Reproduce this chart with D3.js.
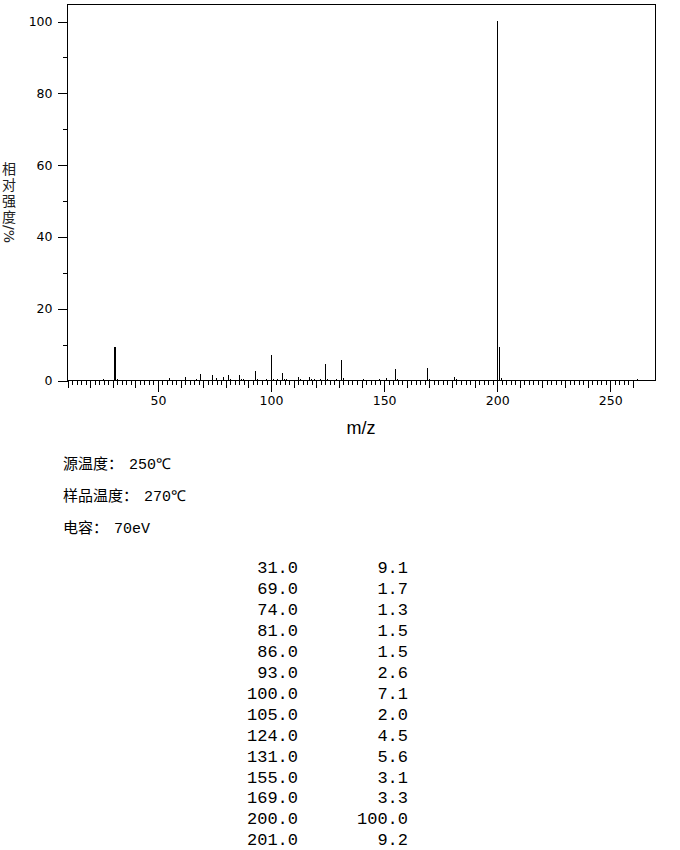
<!DOCTYPE html>
<html>
<head>
<meta charset="utf-8">
<script src="https://cdn.jsdelivr.net/npm/d3@7"></script>
<style>
  body { margin: 0; background: #fff; }
  svg { display: block; }
  .axis path, .axis line { stroke: #000; shape-rendering: crispEdges; }
  .axis text { font-family: "DejaVu Sans", sans-serif; font-size: 12.5px; fill: #000; }
</style>
</head>
<body>
<div id="chart"></div>
<script>
// peaks (m/z, relative intensity %)
var peakMz  = [26, 31, 32, 55, 62, 67, 69, 74, 76, 79, 81, 82, 86, 87, 88, 93, 94, 98, 100, 101, 103, 105, 106, 107,
               112, 113, 117, 118, 119, 122, 124, 125, 129, 131, 132, 141, 148, 151, 155, 156, 169, 170, 181, 182,
               200, 201, 202, 262];
var peakInt = [0.3, 9.1, 0.3, 0.6, 0.9, 0.3, 1.7, 1.3, 0.5, 0.9, 1.5, 0.3, 1.5, 0.3, 0.3, 2.6, 0.3, 0.4, 7.1, 0.4, 0.3, 2.0, 0.4, 0.3,
               0.9, 0.3, 0.9, 0.3, 0.4, 0.3, 4.5, 0.4, 0.4, 5.6, 0.5, 0.3, 0.4, 0.5, 3.1, 0.4, 3.3, 0.3, 0.8, 0.3,
               100, 9.2, 0.6, 0.3];

var xLabels = [50, 100, 150, 200, 250];
var yLabels = [0, 20, 40, 60, 80, 100];

var infoNames  = ["源温度", "样品温度", "电容"];
var infoValues = ["250℃", "270℃", "70eV"];

var xTitle = "m/z";
var yTitleChars = ["相", "对", "强", "度"];
var yTitleUnit = "/%";

var peaks = peakMz.map(function(m, i) { return {mz: m, inten: peakInt[i]}; });
// the listing under the chart holds the peaks above 1 %
var listed = peaks.filter(function(d) { return d.inten >= 1; });

var width = 680, height = 850;

var svg = d3.select("#chart").append("svg")
    .attr("width", width)
    .attr("height", height);

var x = d3.scaleLinear().domain([10, 270]).range([67, 655]);
var y = d3.scaleLinear().domain([0, 100]).range([380, 21]);

// frame
svg.append("rect")
    .attr("x", 67.5).attr("y", 4.5)
    .attr("width", 588).attr("height", 376)
    .attr("fill", "none").attr("stroke", "#000")
    .style("shape-rendering", "crispEdges");

// x axis: minor every 2, medium every 10, labelled every 50
var bottom = function(vals, size, fmt) {
  var g = svg.append("g")
      .attr("class", "axis")
      .attr("transform", "translate(0.5,380.5)")
      .call(d3.axisBottom(x).tickValues(vals).tickSize(size).tickSizeOuter(0).tickFormat(fmt));
  g.select(".domain").remove();
  return g;
};
bottom(d3.range(10, 261, 2), 4, "");
bottom(d3.range(10, 261, 10), 7, "");
bottom(xLabels, 11, d3.format("d"))
  .selectAll("text").attr("y", 16);

// y axis: minor every 10, labelled every 20
var left = function(vals, size, fmt) {
  var g = svg.append("g")
      .attr("class", "axis")
      .attr("transform", "translate(67.5,0.5)")
      .call(d3.axisLeft(y).tickValues(vals).tickSize(size).tickSizeOuter(0).tickFormat(fmt));
  g.select(".domain").remove();
  return g;
};
left(d3.range(0, 101, 10), 5, "");
left(yLabels, 10, d3.format("d"))
  .selectAll("text").attr("x", -15);

// peaks
svg.selectAll(".peak")
    .data(peaks)
  .enter().append("line")
    .attr("class", "peak")
    .attr("x1", function(d) { return Math.round(x(d.mz)) + 0.5; })
    .attr("x2", function(d) { return Math.round(x(d.mz)) + 0.5; })
    .attr("y1", y(0))
    .attr("y2", function(d) { return y(d.inten); })
    .attr("stroke", "#000")
    .attr("stroke-width", function(d) { return d.mz == 31 ? 2 : 1; })
    .style("shape-rendering", "crispEdges");

// titles
svg.append("text")
    .attr("x", 361).attr("y", 434)
    .attr("text-anchor", "middle")
    .style("font-family", "'Liberation Sans', sans-serif")
    .style("font-size", "18px")
    .text(xTitle);

// vertical y title: CJK stacked upright, unit turned on its side
var yStep = 16;
svg.append("text")
    .attr("class", "ytitle")
    .attr("text-anchor", "middle")
    .attr("dominant-baseline", "central")
    .style("font-family", "'Noto Sans CJK SC', sans-serif")
    .style("font-size", "14px")
    .style("fill", "#222")
  .selectAll("tspan")
    .data(yTitleChars)
  .enter().append("tspan")
    .attr("x", 9)
    .attr("y", function(d, i) { return 168 + i * yStep; })
    .text(function(d) { return d; });

svg.append("text")
    .attr("transform", "translate(9," + (168 + 4 * yStep - 7) + ") rotate(90)")
    .attr("dominant-baseline", "central")
    .style("font-family", "'DejaVu Sans', sans-serif")
    .style("font-size", "14px")
    .style("fill", "#222")
    .text(yTitleUnit);

// conditions
var info = svg.selectAll(".info")
    .data(infoNames)
  .enter().append("text")
    .attr("class", "info")
    .attr("x", 63)
    .attr("y", function(d, i) { return 469 + i * 32; });

info.append("tspan")
    .style("font-family", "'Noto Sans CJK SC', sans-serif")
    .style("font-size", "15px")
    .text(function(d) { return d + "："; });

info.append("tspan")
    .attr("dx", 6)
    .style("font-family", "'Liberation Mono', 'DejaVu Sans Mono', monospace")
    .style("font-size", "15px")
    .text(function(d, i) { return infoValues[i]; });

// peak listing
var rows = svg.selectAll(".row")
    .data(listed)
  .enter().append("g")
    .attr("class", "row")
    .attr("transform", function(d, i) { return "translate(0," + (573 + i * 20.95) + ")"; });

rows.append("text")
    .attr("x", 298)
    .attr("text-anchor", "end")
    .style("font-family", "'Liberation Mono', monospace")
    .style("font-size", "17px")
    .text(function(d) { return d.mz.toFixed(1); });

rows.append("text")
    .attr("x", 408)
    .attr("text-anchor", "end")
    .style("font-family", "'Liberation Mono', monospace")
    .style("font-size", "17px")
    .text(function(d) { return d.inten.toFixed(1); });
</script>
</body>
</html>
